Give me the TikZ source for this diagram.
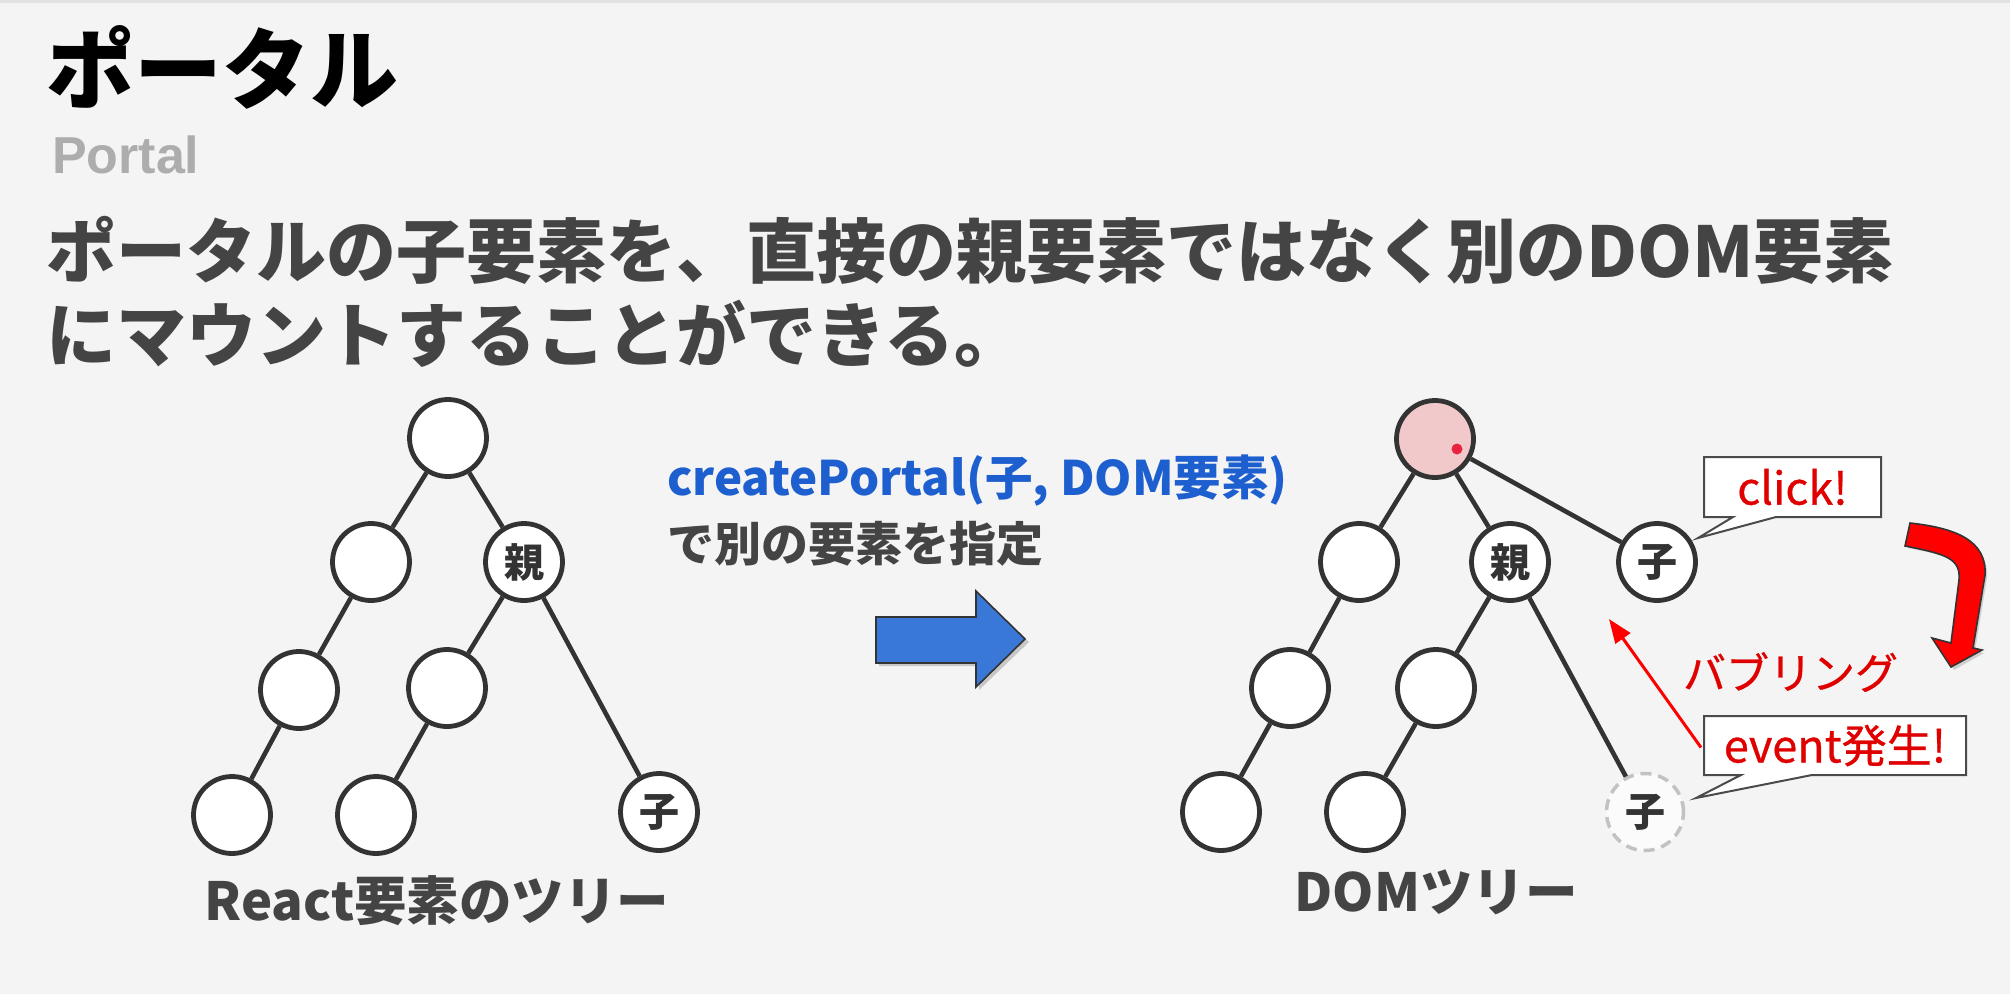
\documentclass[tikz,border=0pt]{standalone}
\usepackage{fontspec}
\newfontfamily\jp{Noto Sans CJK JP}
\newfontfamily\jpmed{Noto Sans CJK JP}[FakeBold=0.6]
\newfontfamily\arialfont{Liberation Sans}
\usetikzlibrary{arrows.meta,calc}
\definecolor{bg}{HTML}{F4F4F4}
\definecolor{topline}{HTML}{E2E2E2}
\definecolor{edge}{HTML}{333333}
\definecolor{tc}{HTML}{333333}
\definecolor{maintxt}{HTML}{444444}
\definecolor{portalgray}{HTML}{ADADAD}
\definecolor{cpblue}{HTML}{1E5FCF}
\definecolor{arrowblue}{HTML}{3A78D8}
\definecolor{pink0}{HTML}{F2C9CA}
\definecolor{dotred}{HTML}{E8243F}
\definecolor{dashgray}{HTML}{C2C2C2}
\definecolor{redtxt}{HTML}{E00000}
\definecolor{bigred}{HTML}{FF0000}
\definecolor{boxline}{HTML}{4A4A4A}
\begin{document}
\begin{tikzpicture}[x=1pt,y=-1pt,
  tnode/.style={circle,draw=edge,fill=white,line width=4.8pt,minimum size=77pt,inner sep=0pt,
    font=\jp\bfseries\fontsize{40}{40}\selectfont,text=tc},
  tedge/.style={draw=edge,line width=4.6pt},
  callout/.style={draw=boxline,fill=white,line width=2pt,line join=miter},
  calltext/.style={font=\jpmed\fontsize{45}{45}\selectfont,text=redtxt,inner sep=0pt},
  plain/.style={inner sep=0pt,outer sep=0pt},
]
\useasboundingbox (0,0) rectangle (2010,994);
\fill[bg] (0,0) rectangle (2010,994);
\fill[topline] (0,0) rectangle (2010,3);

% headings
\node[plain,anchor=base west,font=\jp\bfseries\fontsize{88}{88}\selectfont,text=black] (title) at (46,102) {ポータル};
\node[plain,anchor=base west,font=\arialfont\bfseries\fontsize{52}{52}\selectfont,text=portalgray] (sub) at (52,173) {Portal};
\node[plain,anchor=base west,font=\jp\bfseries\fontsize{70}{70}\selectfont,text=maintxt] (line1) at (46,277) {ポータルの子要素を、直接の親要素ではなく別のDOM要素};
\node[plain,anchor=base west,font=\jp\bfseries\fontsize{70}{70}\selectfont,text=maintxt] (line2) at (46,361) {にマウントすることができる。};

% left tree
\node[tnode] (L0) at (448,438) {};
\node[tnode] (L1a) at (371,562) {};
\node[tnode] (L1b) at (524,562) {親};
\node[tnode] (L2a) at (299,690) {};
\node[tnode] (L2b) at (447,688) {};
\node[tnode] (L3a) at (232,815) {};
\node[tnode] (L3b) at (376,815) {};
\node[tnode] (L3c) at (659,812) {子};
\draw[tedge] (L0) -- (L1a);
\draw[tedge] (L0) -- (L1b);
\draw[tedge] (L1a) -- (L2a);
\draw[tedge] (L2a) -- (L3a);
\draw[tedge] (L1b) -- (L2b);
\draw[tedge] (L2b) -- (L3b);
\draw[tedge] (L1b) -- (L3c);
\node[plain,anchor=base,font=\jp\bfseries\fontsize{52.5}{52.5}\selectfont,text=maintxt] (reactlbl) at (437,920) {React要素のツリー};

% middle
\node[plain,anchor=base west,font=\jp\bfseries\fontsize{47.5}{47.5}\selectfont,text=cpblue] (cp) at (667,495) {createPortal(子, DOM要素)};
\node[plain,anchor=base west,font=\jp\bfseries\fontsize{47}{47}\selectfont,text=maintxt] (cp2) at (667,561) {で別の要素を指定};
\fill[black,opacity=0.18] (879,620) -- (979,620) -- (979,594) -- (1029,642) -- (979,690) -- (979,666) -- (879,666) -- cycle;
\filldraw[fill=arrowblue,draw=edge,line width=1.6pt,line join=miter] (876,617) -- (976,617) -- (976,591) -- (1025,639) -- (976,687) -- (976,663) -- (876,663) -- cycle;

% right tree
\node[tnode,fill=pink0] (R0) at (1435,439) {};
\fill[dotred] (1457,449) circle[radius=5.5];
\node[tnode] (R1a) at (1359,562) {};
\node[tnode] (R1b) at (1510,562) {親};
\node[tnode] (R1c) at (1657,562) {子};
\node[tnode] (R2a) at (1290,688) {};
\node[tnode] (R2b) at (1436,688) {};
\node[tnode] (R3a) at (1221,812) {};
\node[tnode] (R3b) at (1365,812) {};
\node[tnode,draw=dashgray,line width=3.5pt,dash pattern=on 11pt off 7pt,fill=white!60!bg] (R3c) at (1645,812) {子};
\draw[tedge] (R0) -- (R1a);
\draw[tedge] (R0) -- (R1b);
\draw[tedge] (R0) -- (R1c);
\draw[tedge] (R1a) -- (R2a);
\draw[tedge] (R2a) -- (R3a);
\draw[tedge] (R1b) -- (R2b);
\draw[tedge] (R2b) -- (R3b);
\draw[tedge] (R1b) -- (R3c);
\node[plain,anchor=base,font=\jp\bfseries\fontsize{52.5}{52.5}\selectfont,text=maintxt] (domlbl) at (1436,911) {DOMツリー};

% callouts
\node[plain,minimum width=177pt,minimum height=60pt] (clickbox) at (1792.5,487) {};
\coordinate (clicktip) at (1698,538);
\draw[callout] (clickbox.north west) -- (clickbox.north east) -- (clickbox.south east)
  -- ($(clickbox.south west)+(72,0)$) -- (clicktip) -- ($(clickbox.south west)+(29,0)$)
  -- (clickbox.south west) -- cycle;
\node[calltext] (clicktxt) at (clickbox.center) {click!};

\node[plain,minimum width=262pt,minimum height=59pt] (evbox) at (1835,745.5) {};
\coordinate (evtip) at (1696,798);
\draw[callout] (evbox.north west) -- (evbox.north east) -- (evbox.south east)
  -- ($(evbox.south west)+(108,0)$) -- (evtip) -- ($(evbox.south west)+(37,0)$)
  -- (evbox.south west) -- cycle;
\node[calltext] (evtxt) at (evbox.center) {event発生!};

% bubbling
\coordinate (bubtip) at (1609,619);
\draw[bigred,line width=3pt,-{Triangle[length=24pt,width=18pt]}] ($(evbox.west)+(-3,2)$) -- (bubtip);
\node[plain,anchor=base west,font=\jpmed\fontsize{43}{43}\selectfont,text=redtxt] (bubtxt) at (1683,689) {バブリング};

% big red curved arrow
\fill[black,opacity=0.15] (1913,526) .. controls (1958,531) and (1989,543) .. (1987,578) -- (1975,651) -- (1984,653) -- (1954,670) -- (1936,641) -- (1955,646) -- (1963,583) .. controls (1965,559) and (1948,556) .. (1908,548) -- cycle;
\filldraw[fill=bigred,draw=edge,line width=1.6pt,line join=miter] (1910,523) .. controls (1955,528) and (1987,540) .. (1985,575) -- (1973,648) -- (1982,650) -- (1951,667) -- (1932,638) -- (1951,643) -- (1959,580) .. controls (1961,558) and (1945,554) .. (1905,546) -- cycle;
\end{tikzpicture}
\end{document}
